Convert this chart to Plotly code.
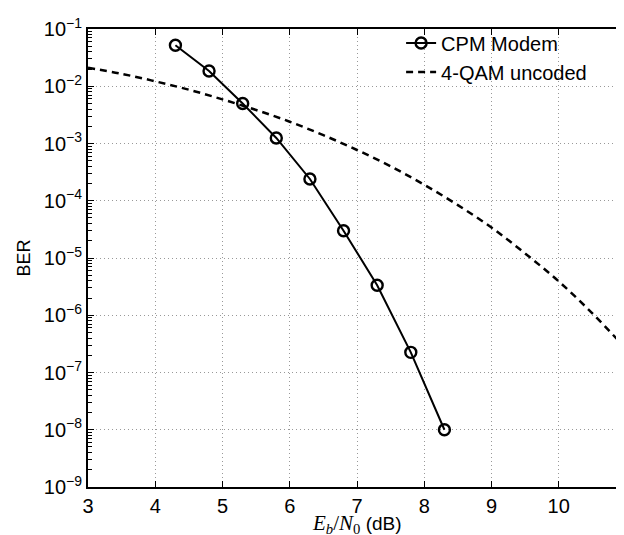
import plotly.graph_objects as go

# CPM Modem measured points
cpm_x = [4.3, 4.8, 5.3, 5.8, 6.3, 6.8, 7.3, 7.8, 8.3]
cpm_ber = [5.2e-2, 1.85e-2, 5.0e-3, 1.25e-3, 2.4e-4, 3.0e-5, 3.35e-6, 2.25e-7, 1.0e-8]

# 4-QAM uncoded curve
qam_x = [3.0, 3.5, 4.0, 4.5, 5.0, 5.5, 6.0, 6.5, 7.0, 7.5, 8.0, 8.5, 9.0, 9.5, 10.0, 10.5, 11.0]
qam_ber = [2.1e-2, 1.65e-2, 1.22e-2, 8.7e-3, 5.9e-3, 3.85e-3, 2.4e-3, 1.4e-3, 7.7e-4,
           4.0e-4, 1.9e-4, 8.4e-5, 3.4e-5, 1.2e-5, 3.9e-6, 1.08e-6, 2.6e-7]

x_ticks = [3, 4, 5, 6, 7, 8, 9, 10, 11]
y_tickvals = [1e-9, 1e-8, 1e-7, 1e-6, 1e-5, 1e-4, 1e-3, 1e-2, 1e-1]
y_ticktext = ["10<sup>\u22129</sup>", "10<sup>\u22128</sup>", "10<sup>\u22127</sup>",
              "10<sup>\u22126</sup>", "10<sup>\u22125</sup>", "10<sup>\u22124</sup>",
              "10<sup>\u22123</sup>", "10<sup>\u22122</sup>", "10<sup>\u22121</sup>"]
minor_mult = [2, 3, 4, 5, 6, 7, 8, 9]
y_minor = [m * d for d in y_tickvals[:-1] for m in minor_mult]

x_title = ("<span style='font-family:Liberation Serif;font-size:21px'><i>E</i><sub><i>b</i></sub>/"
           "<i>N</i><sub>0</sub></span> (dB)")

fig = go.Figure()
fig.add_trace(go.Scatter(
    x=cpm_x, y=cpm_ber, mode="lines+markers", name="CPM Modem",
    line=dict(color="black", width=2),
    marker=dict(symbol="circle-open", size=11, color="black", line=dict(width=2.4)),
))
fig.add_trace(go.Scatter(
    x=qam_x, y=qam_ber, mode="lines", name="4-QAM uncoded",
    line=dict(color="black", width=2.5, dash="7px,5px", shape="spline"),
))
# invisible traces to carry minor-tick axes
for ax in ["y2", "y3"]:
    fig.add_trace(go.Scatter(x=[3], y=[1e-5], yaxis=ax, mode="markers",
                             marker=dict(opacity=0), showlegend=False, hoverinfo="skip"))

font_main = "Liberation Sans, Arial, Helvetica, sans-serif"
grid = dict(showgrid=True, gridcolor="#999999", griddash="1px,3px", gridwidth=1)
minor_ax = dict(type="log", range=[-9, -1], tickvals=y_minor, showticklabels=False,
                ticks="inside", ticklen=4, tickcolor="black", tickwidth=1,
                showgrid=False, zeroline=False, showline=False, overlaying="y",
                anchor="x", automargin=False)
fig.update_layout(
    width=624, height=535,
    margin=dict(l=80, r=6, t=21, b=56),
    paper_bgcolor="white", plot_bgcolor="white",
    font=dict(family=font_main, size=20, color="black"),
    showlegend=True,
    legend=dict(x=0.937, y=1.012, xanchor="right", yanchor="top",
                bgcolor="rgba(255,255,255,0)", borderwidth=0,
                font=dict(size=20), tracegroupgap=0, itemwidth=30),
    xaxis=dict(
        range=[3, 11.0001], tickvals=x_ticks, ticktext=[str(v) for v in x_ticks],
        showline=True, linecolor="black", linewidth=2, mirror="ticks",
        ticks="inside", ticklen=6, tickcolor="black", tickwidth=1,
        zeroline=False, automargin=False, ticklabeloverflow="allow", **grid,
    ),
    yaxis=dict(
        type="log", range=[-9, -1], tickvals=y_tickvals, ticktext=y_ticktext,
        showline=True, linecolor="black", linewidth=2, mirror="ticks",
        ticks="inside", ticklen=6, tickcolor="black", tickwidth=1,
        zeroline=False, automargin=False, **grid,
        title=dict(text="BER", font=dict(size=18), standoff=8),
    ),
    yaxis2=dict(side="left", **minor_ax),
    yaxis3=dict(side="right", **minor_ax),
    annotations=[dict(text=x_title, xref="paper", yref="paper", x=0.5, y=-0.08,
                      xanchor="center", yanchor="middle", showarrow=False,
                      font=dict(size=19))],
)

fig.write_html("out.html")
